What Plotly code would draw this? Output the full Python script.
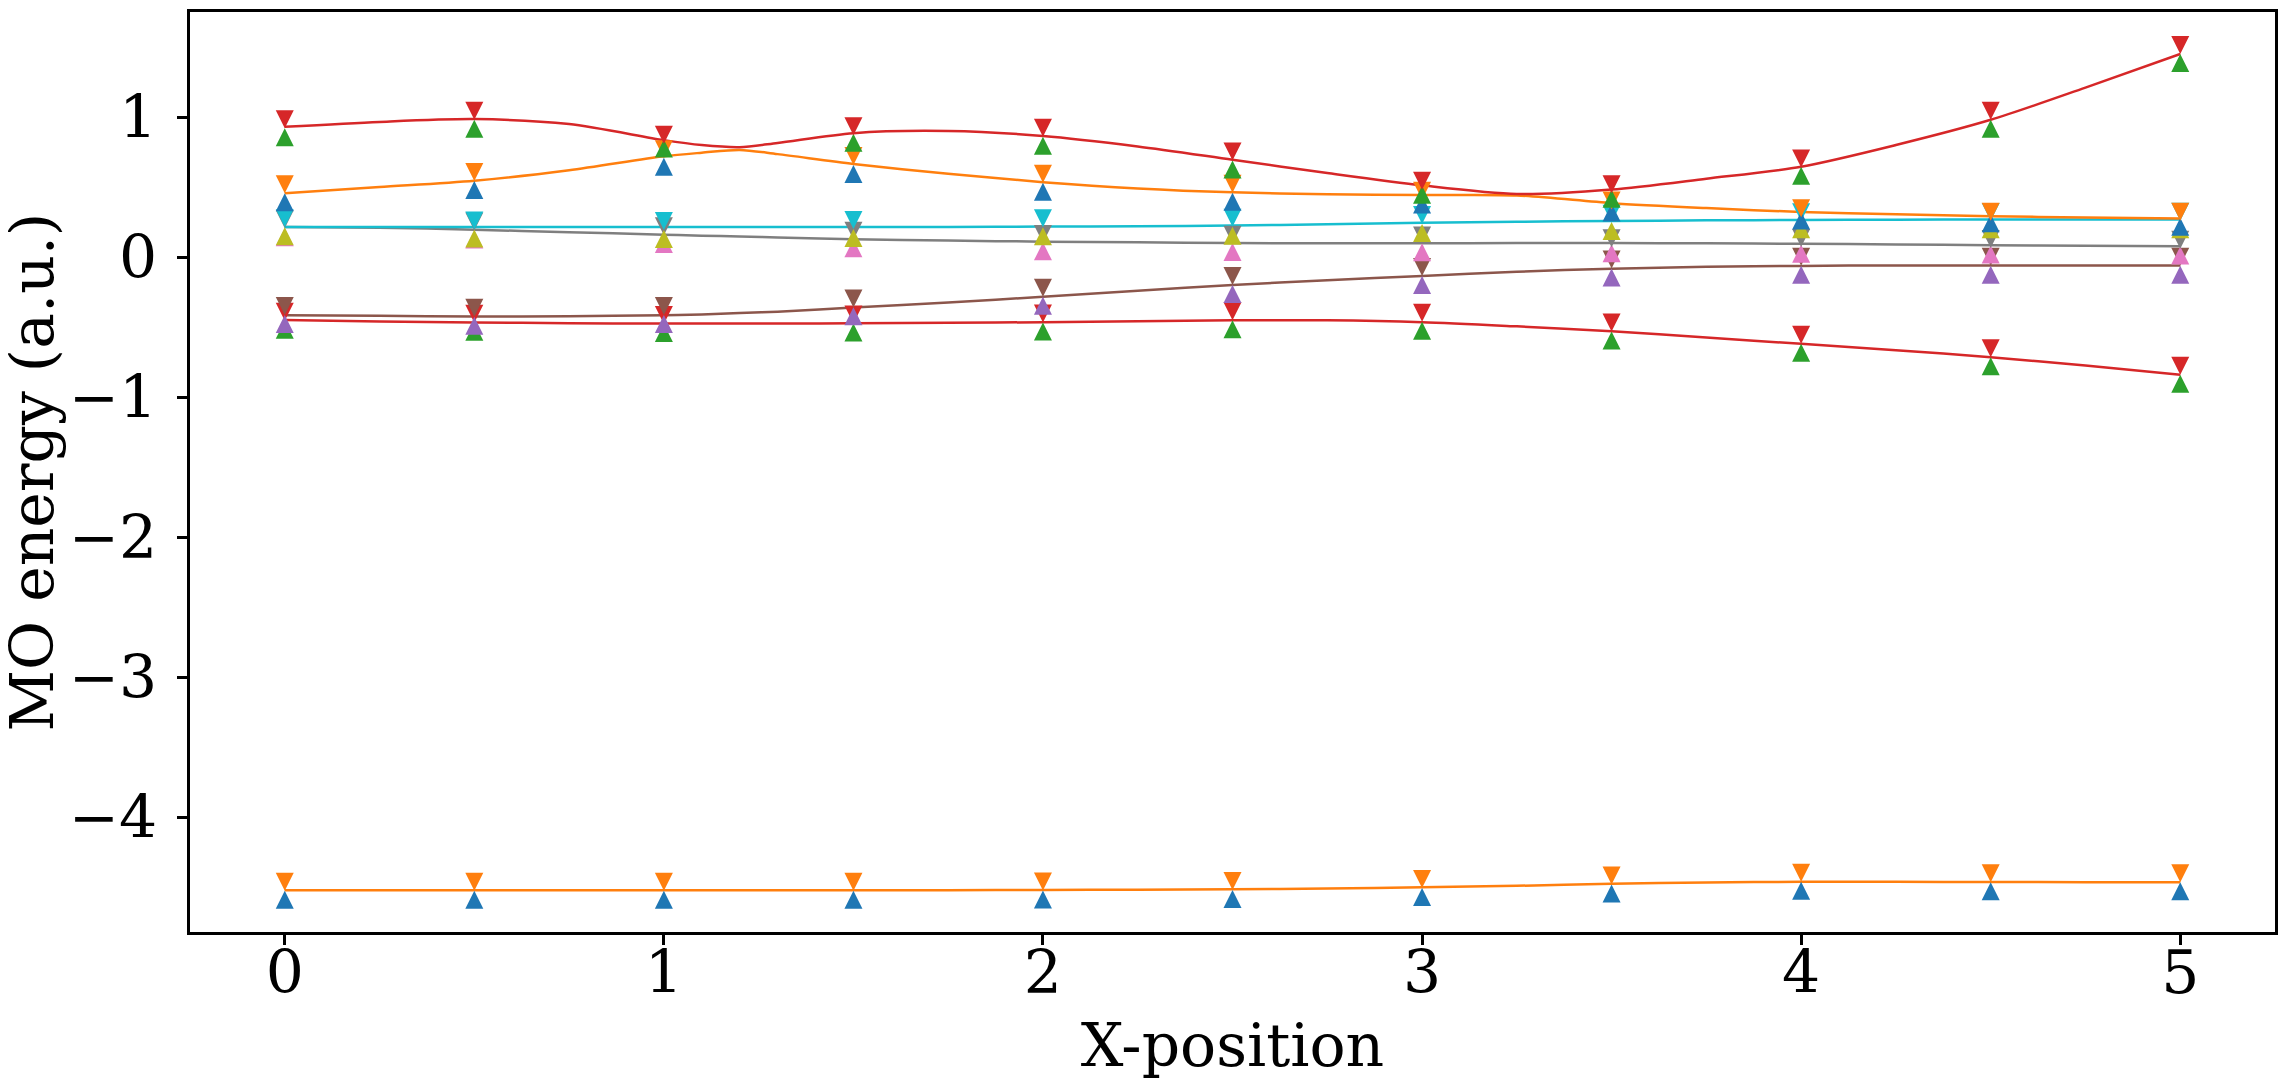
import plotly.graph_objects as go

# x positions of the computed points (markers)
x_points = [0, 0.5, 1, 1.5, 2, 2.5, 3, 3.5, 4, 4.5, 5]

# finer x grid used for the continuous curves
x_curve = [0, 0.25, 0.5, 0.75, 1.0, 1.1, 1.2, 1.3, 1.5, 1.75, 2.0, 2.25,
           2.5, 2.75, 3.0, 3.25, 3.5, 3.75, 4.0, 4.25, 4.5, 4.75, 5.0]

# MO energies drawn with up-pointing markers (one list per orbital, lowest first)
mo0_up = [-4.525, -4.525, -4.525, -4.525, -4.523, -4.52, -4.505, -4.48, -4.462, -4.465, -4.465]
mo1_up = [-0.455, -0.47, -0.478, -0.475, -0.468, -0.452, -0.462, -0.532, -0.62, -0.715, -0.84]
mo2_up = [-0.414, -0.426, -0.414, -0.358, -0.283, -0.2, -0.136, -0.081, -0.062, -0.062, -0.062]
mo3_up = [0.205, 0.19, 0.157, 0.127, 0.105, 0.1, 0.098, 0.092, 0.088, 0.082, 0.076]
mo4_up = [0.212, 0.196, 0.194, 0.2, 0.212, 0.216, 0.236, 0.25, 0.262, 0.262, 0.262]
mo5_up = [0.455, 0.543, 0.71, 0.657, 0.53, 0.46, 0.44, 0.383, 0.325, 0.305, 0.28]
mo6_up = [0.92, 0.98, 0.84, 0.88, 0.86, 0.69, 0.51, 0.48, 0.645, 0.98, 1.45]

# MO energies drawn with down-pointing markers
mo0_down = [-4.525, -4.525, -4.525, -4.525, -4.523, -4.52, -4.505, -4.48, -4.462, -4.465, -4.465]
mo1_down = [-0.455, -0.47, -0.478, -0.475, -0.468, -0.452, -0.462, -0.532, -0.62, -0.715, -0.84]
mo2_down = [-0.414, -0.426, -0.414, -0.36, -0.283, -0.2, -0.136, -0.081, -0.062, -0.062, -0.062]
mo3_down = [0.205, 0.19, 0.155, 0.124, 0.1, 0.095, 0.09, 0.07, 0.072, 0.065, 0.06]
mo4_down = [0.212, 0.196, 0.194, 0.2, 0.212, 0.216, 0.236, 0.245, 0.255, 0.258, 0.26]
mo5_down = [0.455, 0.543, 0.705, 0.657, 0.53, 0.46, 0.41, 0.34, 0.285, 0.26, 0.26]
mo6_down = [0.92, 0.98, 0.81, 0.87, 0.86, 0.69, 0.48, 0.455, 0.64, 0.98, 1.45]

# continuous curves
mo0_curve = [-4.522, -4.522, -4.522, -4.522, -4.522, -4.522, -4.522, -4.522, -4.522, -4.521,
             -4.52, -4.518, -4.515, -4.51, -4.5, -4.49, -4.475, -4.466, -4.462, -4.462,
             -4.463, -4.464, -4.465]
mo1_curve = [-0.45, -0.46, -0.467, -0.472, -0.475, -0.475, -0.475, -0.475, -0.473, -0.47,
             -0.465, -0.458, -0.452, -0.452, -0.465, -0.495, -0.53, -0.575, -0.62, -0.665,
             -0.715, -0.775, -0.84]
mo2_curve = [-0.415, -0.42, -0.425, -0.423, -0.415, -0.41, -0.4, -0.39, -0.36, -0.325,
             -0.283, -0.24, -0.2, -0.165, -0.135, -0.105, -0.083, -0.07, -0.063, -0.06,
             -0.06, -0.06, -0.06]
mo3_curve = [0.214, 0.21, 0.195, 0.178, 0.16, 0.153, 0.147, 0.14, 0.128, 0.118,
             0.11, 0.105, 0.1, 0.098, 0.098, 0.1, 0.1, 0.098, 0.095, 0.09,
             0.085, 0.08, 0.077]
mo4_curve = [0.214, 0.214, 0.214, 0.214, 0.214, 0.214, 0.214, 0.214, 0.214, 0.215,
             0.218, 0.22, 0.225, 0.235, 0.245, 0.252, 0.258, 0.262, 0.265, 0.267,
             0.268, 0.268, 0.268]
mo5_curve = [0.455, 0.5, 0.545, 0.62, 0.72, 0.745, 0.765, 0.735, 0.665, 0.595,
             0.535, 0.49, 0.462, 0.448, 0.443, 0.44, 0.385, 0.35, 0.322, 0.305,
             0.292, 0.282, 0.275]
mo6_curve = [0.93, 0.965, 0.985, 0.95, 0.835, 0.8, 0.785, 0.815, 0.885, 0.9,
             0.865, 0.79, 0.695, 0.6, 0.512, 0.45, 0.482, 0.56, 0.645, 0.8,
             0.98, 1.21, 1.45]

up_colors = ["#1f77b4", "#2ca02c", "#9467bd", "#e377c2", "#bcbd22", "#1f77b4", "#2ca02c"]
down_colors = ["#ff7f0e", "#d62728", "#8c564b", "#7f7f7f", "#17becf", "#ff7f0e", "#d62728"]

FONT = "DejaVu Serif"


def build_figure():
    ups = [mo0_up, mo1_up, mo2_up, mo3_up, mo4_up, mo5_up, mo6_up]
    downs = [mo0_down, mo1_down, mo2_down, mo3_down, mo4_down, mo5_down, mo6_down]
    curves = [mo0_curve, mo1_curve, mo2_curve, mo3_curve, mo4_curve, mo5_curve, mo6_curve]

    fig = go.Figure()
    for i in range(len(curves)):
        fig.add_trace(go.Scatter(
            x=x_curve, y=curves[i], mode="lines",
            line=dict(color=down_colors[i], width=2.5, shape="spline", smoothing=0.8),
            showlegend=False, hoverinfo="skip",
        ))
    for i in range(len(ups)):
        fig.add_trace(go.Scatter(
            x=x_points, y=ups[i], mode="markers",
            marker=dict(symbol="arrow-up", size=18, color=up_colors[i], line=dict(width=0)),
            showlegend=False,
        ))
        fig.add_trace(go.Scatter(
            x=x_points, y=downs[i], mode="markers",
            marker=dict(symbol="arrow-down", size=18, color=down_colors[i], line=dict(width=0)),
            showlegend=False,
        ))

    axis_style = dict(
        showline=True, mirror=True, linecolor="black", linewidth=2.5,
        ticks="outside", ticklen=10, tickwidth=2.5, tickcolor="black",
        showgrid=False, zeroline=False, automargin=False,
        tickfont=dict(family=FONT, size=60, color="black"),
    )
    # the page body adds 8px around the figure, so the figure is 16px smaller
    fig.update_layout(
        width=2276, height=1072,
        margin=dict(l=182, r=9, t=4, b=148),
        plot_bgcolor="white", paper_bgcolor="white",
        xaxis=dict(range=[-0.25, 5.25], tickvals=[0, 1, 2, 3, 4, 5],
                   ticklabelstandoff=-24,
                   title=dict(text="X-position", font=dict(family=FONT, size=60, color="black"),
                              standoff=20),
                   **axis_style),
        yaxis=dict(range=[-4.82, 1.75], tickvals=[-4, -3, -2, -1, 0, 1],
                   ticklabelstandoff=8,
                   **axis_style),
    )
    # y label as a rotated annotation left of the tick labels
    fig.add_annotation(
        text="MO energy (a.u.)", xref="paper", yref="paper",
        x=-0.076, y=0.5, xanchor="center", yanchor="middle",
        textangle=-90, showarrow=False,
        font=dict(family=FONT, size=60, color="black"),
    )
    return fig


def main():
    fig = build_figure()
    fig.write_html("out.html")


if __name__ == "__main__":
    main()
